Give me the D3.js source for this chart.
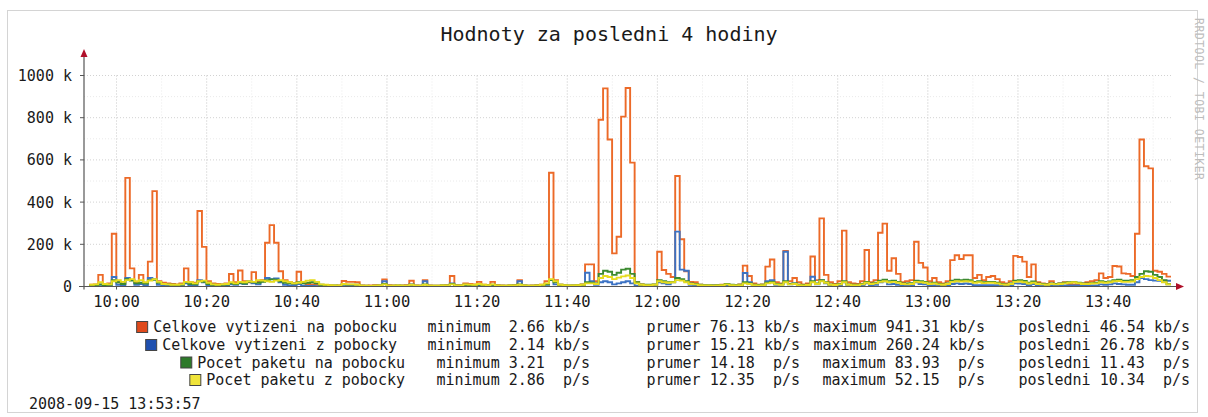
<!DOCTYPE html>
<html>
<head>
<meta charset="utf-8">
<script src="https://cdn.jsdelivr.net/npm/d3@7"></script>
<style>
  body { margin: 0; background: #fff; }
  text { font-family: "DejaVu Sans Mono", monospace; fill: #1a1a1a; }
</style>
</head>
<body>
<div id="app"></div>
<script>
const width = 1208,
  height = 417;

// time window of the graph (rrd end = 13:53:57, 1 minute steps)
const viewStart = new Date(2008, 8, 15, 9, 52, 47);
const dataStart = new Date(2008, 8, 15, 9, 53, 57);
const viewEnd = new Date(2008, 8, 15, 13, 53, 57);

const titleText = "Hodnoty za posledni 4 hodiny";
const stampText = "2008-09-15 13:53:57";
const watermark = "RRDTOOL / TOBI OETIKER";

const yTicks = [0, 200, 400, 600, 800, 1000];

// legend
const seriesNames = [
  "Celkove vytizeni na pobocku",
  "Celkove vytizeni z pobocky",
  "Pocet paketu na pobocku",
  "Pocet paketu z pobocky"
];
const statLabels = ["minimum", "prumer", "maximum", "posledni"];
const statMin = ["2.66", "2.14", "3.21", "2.86"];
const statAvg = ["76.13", "15.21", "14.18", "12.35"];
const statMax = ["941.31", "260.24", "83.93", "52.15"];
const statLast = ["46.54", "26.78", "11.43", "10.34"];
const statUnits = ["kb/s", "kb/s", "p/s", "p/s"];

// values per minute, in k (as plotted)
const trafficIn = [
  8, 10, 55, 12, 15, 250, 20, 15, 515, 86,
  20, 55, 15, 118, 452, 25, 18, 15, 12, 10,
  15, 86, 20, 18, 358, 188, 25, 15, 12, 10,
  15, 59, 20, 76, 25, 20, 68, 25, 30, 207,
  291, 207, 72, 30, 20, 15, 70, 18, 12, 10,
  8, 6, 5, 5, 4, 5, 26, 22, 22, 20,
  5, 4, 5, 6, 5, 34, 6, 5, 4, 5,
  6, 27, 5, 4, 30, 5, 4, 4, 5, 6,
  50, 6, 5, 15, 12, 10, 22, 8, 6, 22,
  6, 5, 4, 5, 6, 30, 5, 4, 5, 6,
  8, 25, 539, 30, 8, 5, 4, 5, 6, 10,
  105, 105, 25, 790, 939, 697, 157, 236, 805, 941,
  587, 20, 10, 6, 5, 8, 165, 78, 60, 45,
  524, 224, 72, 22, 20, 8, 5, 4, 5, 6,
  8, 12, 6, 5, 10, 99, 50, 15, 8, 10,
  94, 128, 20, 15, 168, 25, 40, 20, 10, 15,
  142, 30, 323, 55, 20, 12, 25, 265, 20, 15,
  12, 25, 173, 20, 30, 255, 298, 75, 134, 60,
  20, 25, 30, 212, 112, 90, 25, 40, 20, 15,
  25, 125, 148, 130, 148, 148, 40, 55, 30, 45,
  50, 35, 20, 15, 25, 145, 140, 118, 45, 105,
  20, 15, 12, 25, 10, 15, 20, 12, 10, 8,
  15, 20, 25, 30, 62, 40, 45, 97, 95, 62,
  60, 50, 250, 697, 570, 560, 75, 70, 60, 47
];

const trafficOut = [
  3, 4, 8, 4, 5, 45, 8, 5, 40, 30,
  8, 12, 6, 40, 35, 8, 5, 4, 4, 3,
  5, 15, 6, 5, 30, 20, 6, 4, 5, 4,
  5, 10, 8, 15, 12, 25, 15, 10, 25, 40,
  35, 38, 20, 8, 5, 6, 12, 4, 3, 3,
  2, 3, 3, 2, 3, 3, 8, 6, 6, 5,
  3, 2, 3, 3, 2, 25, 3, 2, 3, 3,
  2, 10, 3, 2, 25, 3, 2, 3, 3, 2,
  15, 3, 3, 5, 4, 4, 6, 3, 3, 6,
  3, 3, 2, 3, 3, 25, 3, 3, 3, 3,
  3, 8, 30, 10, 3, 3, 3, 3, 3, 4,
  65, 25, 8, 20, 25, 20, 10, 15, 20, 25,
  15, 4, 4, 4, 4, 4, 20, 15, 10, 20,
  260, 80, 75, 8, 5, 4, 3, 3, 4, 4,
  5, 5, 4, 4, 4, 64, 20, 4, 4, 4,
  25, 30, 8, 10, 165, 10, 15, 4, 4, 4,
  46, 10, 30, 15, 5, 5, 5, 20, 4, 4,
  4, 4, 15, 5, 8, 20, 25, 10, 12, 8,
  5, 5, 5, 20, 12, 10, 5, 5, 5, 5,
  5, 12, 15, 12, 14, 12, 6, 6, 6, 6,
  6, 6, 6, 6, 6, 15, 14, 12, 6, 12,
  5, 5, 5, 5, 5, 5, 5, 5, 5, 5,
  5, 5, 5, 5, 10, 8, 10, 15, 12, 10,
  8, 8, 20, 40, 35, 30, 28, 27, 27, 27
];

const packetsIn = [
  5, 6, 10, 6, 8, 30, 20, 12, 35, 28,
  15, 18, 14, 30, 32, 18, 12, 10, 8, 7,
  9, 20, 12, 10, 25, 22, 12, 8, 7, 8,
  9, 15, 12, 18, 14, 22, 20, 18, 22, 30,
  34, 32, 25, 18, 15, 14, 20, 15, 18, 20,
  15, 8, 6, 5, 5, 4, 10, 9, 9, 8,
  4, 4, 3, 4, 5, 12, 4, 4, 5, 4,
  4, 8, 4, 4, 10, 4, 4, 4, 5, 5,
  12, 5, 5, 8, 7, 6, 9, 6, 5, 8,
  5, 4, 4, 5, 5, 10, 5, 4, 4, 5,
  6, 10, 30, 20, 8, 6, 5, 5, 6, 8,
  20, 18, 15, 60, 75, 70, 55, 65, 80, 84,
  60, 20, 10, 8, 8, 10, 30, 25, 20, 22,
  40, 35, 25, 15, 12, 8, 6, 6, 5, 6,
  7, 12, 8, 6, 8, 20, 15, 8, 7, 8,
  18, 22, 12, 10, 25, 12, 15, 8, 7, 9,
  25, 15, 30, 20, 10, 9, 12, 25, 10, 8,
  8, 12, 22, 15, 18, 28, 32, 25, 28, 22,
  15, 14, 16, 28, 25, 22, 15, 18, 12, 10,
  14, 28, 32, 30, 32, 30, 22, 25, 20, 22,
  22, 18, 12, 10, 14, 28, 30, 26, 18, 24,
  14, 12, 10, 15, 12, 14, 18, 20, 22, 18,
  15, 14, 16, 18, 25, 22, 24, 30, 32, 28,
  28, 30, 45, 60, 72, 70, 55, 45, 30, 11
];

const packetsOut = [
  8, 10, 20, 12, 10, 25, 30, 22, 30, 35,
  25, 30, 20, 28, 35, 22, 12, 10, 8, 8,
  10, 22, 20, 15, 25, 28, 18, 10, 8, 10,
  12, 20, 15, 22, 20, 25, 22, 30, 28, 25,
  22, 28, 30, 25, 20, 15, 18, 22, 28, 30,
  22, 10, 8, 6, 5, 5, 12, 10, 10, 8,
  4, 4, 3, 4, 5, 10, 4, 4, 5, 4,
  4, 8, 4, 4, 8, 4, 4, 4, 5, 5,
  10, 5, 5, 10, 9, 8, 12, 8, 6, 10,
  5, 4, 4, 5, 5, 8, 5, 4, 4, 5,
  8, 15, 35, 25, 8, 6, 5, 5, 6, 8,
  15, 15, 12, 40, 50, 45, 35, 42, 48, 52,
  40, 15, 8, 6, 6, 8, 25, 20, 18, 20,
  30, 28, 20, 12, 10, 6, 5, 5, 4, 5,
  6, 10, 6, 5, 6, 15, 12, 6, 5, 6,
  15, 18, 10, 8, 20, 10, 12, 6, 5, 7,
  20, 12, 25, 18, 8, 7, 10, 20, 8, 6,
  6, 10, 18, 12, 15, 22, 25, 20, 22, 18,
  12, 10, 12, 22, 20, 18, 12, 14, 10, 8,
  12, 22, 25, 24, 25, 24, 18, 20, 16, 18,
  18, 15, 10, 8, 12, 22, 24, 20, 14, 18,
  12, 10, 8, 12, 10, 12, 15, 18, 20, 16,
  12, 12, 14, 15, 20, 18, 20, 25, 26, 22,
  22, 24, 35, 45, 50, 48, 40, 30, 20, 10
];

const allSeries = [trafficIn, trafficOut, packetsIn, packetsOut];
const allStats = [statMin, statAvg, statMax, statLast];
const lineColors = ["#ec6a28", "#3b72c4", "#3c8a30", "#e6dc1e"];
const swatchColors = ["#e04a1c", "#1f50b0", "#2d7a2a", "#f0e43a"];

const x = d3.scaleTime().domain([viewStart, viewEnd]).range([84, 1171]);
const y = d3.scaleLinear().domain([0, 1000]).range([286.5, 75.5]);

const svg = d3
  .select("#app")
  .append("svg")
  .attr("width", width)
  .attr("height", height);

svg.append("rect")
  .attr("width", width)
  .attr("height", height)
  .attr("fill", "#fff");

// frame
svg.append("rect")
  .attr("x", 7.5)
  .attr("y", 10.5)
  .attr("width", 1190)
  .attr("height", 402)
  .attr("fill", "none")
  .attr("stroke", "#d4d4d4");

// grid
const grid = svg.append("g");
const minorX = x.ticks(d3.timeMinute.every(10));
const majorX = x.ticks(d3.timeMinute.every(20));
const minorY = d3.range(100, 1001, 200);

grid.selectAll("line.vminor")
  .data(minorX)
  .join("line")
  .attr("x1", d => x(d)).attr("x2", d => x(d))
  .attr("y1", y(1000)).attr("y2", y(0))
  .attr("stroke", "#eaeaea")
  .attr("stroke-dasharray", "1,2");

grid.selectAll("line.hminor")
  .data(minorY)
  .join("line")
  .attr("x1", 84).attr("x2", 1171)
  .attr("y1", d => y(d)).attr("y2", d => y(d))
  .attr("stroke", "#eaeaea")
  .attr("stroke-dasharray", "1,2");

grid.selectAll("line.vmajor")
  .data(majorX)
  .join("line")
  .attr("x1", d => x(d)).attr("x2", d => x(d))
  .attr("y1", y(1000)).attr("y2", y(0))
  .attr("stroke", "#d2d2d2")
  .attr("stroke-dasharray", "1,2");

grid.selectAll("line.hmajor")
  .data(yTicks.slice(1))
  .join("line")
  .attr("x1", 84).attr("x2", 1171)
  .attr("y1", d => y(d)).attr("y2", d => y(d))
  .attr("stroke", "#d2d2d2")
  .attr("stroke-dasharray", "1,2");

// series as steps
const line = d3.line()
  .x(d => x(d[0]))
  .y(d => y(d[1]))
  .curve(d3.curveStepAfter);

allSeries.forEach((vals, k) => {
  const pts = vals.map((v, i) => [d3.timeMinute.offset(dataStart, i), v]);
  pts.push([d3.timeMinute.offset(dataStart, vals.length), vals[vals.length - 1]]);
  svg.append("path")
    .datum(pts)
    .attr("fill", "none")
    .attr("stroke", lineColors[k])
    .attr("stroke-width", 1.9)
    .attr("d", line);
});

// axes
const axisColor = "#555";
svg.append("line")
  .attr("x1", 84).attr("x2", 84)
  .attr("y1", y(0) + 3).attr("y2", 55)
  .attr("stroke", axisColor).attr("stroke-width", 1.2);
svg.append("line")
  .attr("x1", 79).attr("x2", 1178)
  .attr("y1", y(0)).attr("y2", y(0))
  .attr("stroke", axisColor).attr("stroke-width", 1.2);
svg.append("path")
  .attr("d", "M84,49 L80.5,57 L87.5,57 Z")
  .attr("fill", "#b0102a");
svg.append("path")
  .attr("d", `M1184,${y(0)} L1176,${y(0) - 3.5} L1176,${y(0) + 3.5} Z`)
  .attr("fill", "#b0102a");

svg.selectAll("line.ytick")
  .data(yTicks)
  .join("line")
  .attr("x1", 80).attr("x2", 84)
  .attr("y1", d => y(d)).attr("y2", d => y(d))
  .attr("stroke", axisColor);

svg.selectAll("line.xtick")
  .data(majorX)
  .join("line")
  .attr("x1", d => x(d)).attr("x2", d => x(d))
  .attr("y1", y(0)).attr("y2", y(0) + 3)
  .attr("stroke", axisColor);

svg.selectAll("text.ylab")
  .data(yTicks)
  .join("text")
  .attr("x", 72)
  .attr("y", d => y(d))
  .attr("dy", "0.36em")
  .attr("text-anchor", "end")
  .style("font-size", "15px")
  .text(d => (d === 0 ? "0" : d + " k"));

const fmt = d3.timeFormat("%H:%M");
svg.selectAll("text.xlab")
  .data(majorX)
  .join("text")
  .attr("x", d => x(d))
  .attr("y", 301)
  .attr("dy", "0.36em")
  .attr("text-anchor", "middle")
  .style("font-size", "15.5px")
  .text(d => fmt(d));

// title
svg.append("text")
  .attr("x", 609)
  .attr("y", 34)
  .attr("dy", "0.36em")
  .attr("text-anchor", "middle")
  .style("font-size", "20px")
  .text(titleText);

// watermark
svg.append("text")
  .attr("transform", "translate(1195,18) rotate(90)")
  .attr("textLength", 162)
  .style("font-size", "11.5px")
  .style("fill", "#bdbdbd")
  .text(watermark);

// legend
const rowY = [327, 345, 362.5, 380];
const nameEnd = [397, 397, 405, 405];
const colEnd = [590, 800, 985, 1190];

const legend = svg.append("g").style("font-size", "15px");

// width of one monospace character at legend size
const probe = legend.append("text").text("0000000000");
const cw = probe.node().getComputedTextLength() / 10;
probe.remove();

seriesNames.forEach((name, r) => {
  const isPackets = statUnits[r] === "p/s";
  const t = legend.append("text")
    .attr("x", nameEnd[r])
    .attr("y", rowY[r])
    .attr("dy", "0.36em")
    .attr("text-anchor", "end")
    .text(name);
  const w = t.node().getComputedTextLength();
  legend.append("rect")
    .attr("x", nameEnd[r] - w - 16.5)
    .attr("y", rowY[r] - 5.5)
    .attr("width", 11)
    .attr("height", 11)
    .attr("fill", swatchColors[r])
    .attr("stroke", "#444")
    .attr("stroke-width", 1);

  statLabels.forEach((label, c) => {
    // column laid out as "label value unit" in fixed-width cells, right aligned
    const val = allStats[c][r].padStart(isPackets ? 4 : 5);
    const unit = statUnits[r].padStart(4);
    const nChars = label.length + 1 + val.length + 1 + unit.length;
    const x0 = colEnd[c] - nChars * cw;
    const valOffset = label.length + 1 + (val.length - val.trim().length);
    legend.append("text")
      .attr("x", x0)
      .attr("y", rowY[r])
      .attr("dy", "0.36em")
      .text(label);
    legend.append("text")
      .attr("x", x0 + valOffset * cw)
      .attr("y", rowY[r])
      .attr("dy", "0.36em")
      .text(val.trim());
    legend.append("text")
      .attr("x", colEnd[c])
      .attr("y", rowY[r])
      .attr("dy", "0.36em")
      .attr("text-anchor", "end")
      .text(statUnits[r]);
  });
});

svg.append("text")
  .attr("x", 29)
  .attr("y", 404)
  .attr("dy", "0.36em")
  .style("font-size", "15px")
  .text(stampText);
</script>
</body>
</html>
